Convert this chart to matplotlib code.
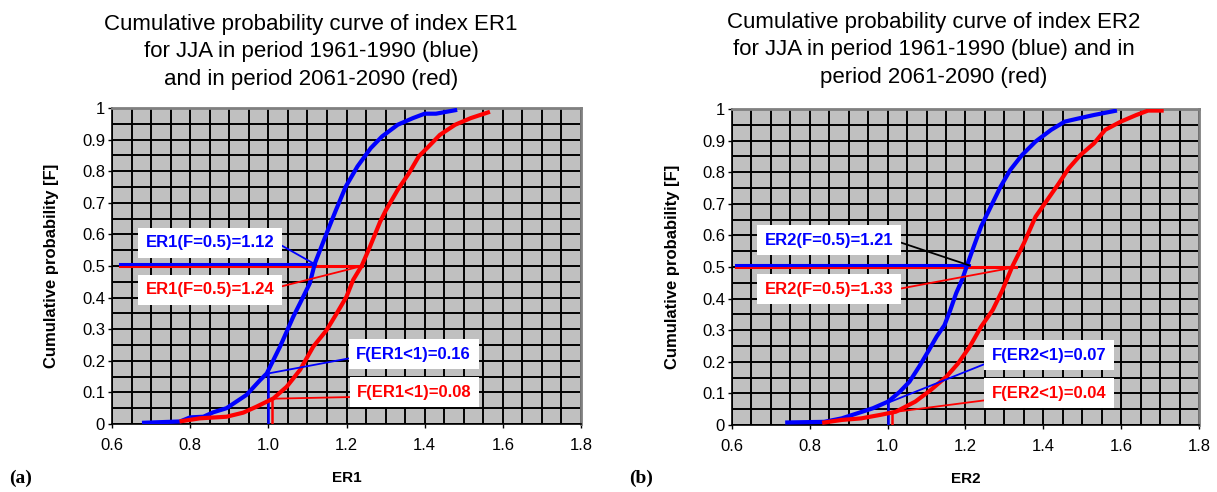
import numpy as np
import matplotlib
matplotlib.use("Agg")
from matplotlib import pyplot as plt
from matplotlib.ticker import MultipleLocator, FuncFormatter

# ER1, period 1961-1990 (blue)
er1_x_base = [0.682, 0.774, 0.80, 0.834, 0.859, 0.893, 0.944, 0.979, 0.996, 1.03,
              1.064, 1.081, 1.106, 1.119, 1.149, 1.173, 1.198, 1.228, 1.262, 1.291,
              1.331, 1.37, 1.40, 1.429, 1.478]
er1_f_base = [0.004, 0.008, 0.021, 0.023, 0.037, 0.05, 0.092, 0.139, 0.16, 0.245,
              0.34, 0.382, 0.445, 0.508, 0.603, 0.677, 0.751, 0.815, 0.873, 0.91,
              0.947, 0.968, 0.982, 0.982, 0.993]
# ER1, period 2061-2090 (red)
er1_x_fut = [0.778, 0.825, 0.893, 0.936, 0.97, 1.013, 1.047, 1.081, 1.115, 1.149,
             1.175, 1.20, 1.217, 1.239, 1.26, 1.286, 1.301, 1.331, 1.36, 1.385,
             1.41, 1.439, 1.478, 1.518, 1.562]
er1_f_fut = [0.009, 0.018, 0.023, 0.036, 0.055, 0.081, 0.118, 0.171, 0.245, 0.297,
             0.35, 0.403, 0.456, 0.501, 0.561, 0.64, 0.677, 0.741, 0.794, 0.847,
             0.878, 0.915, 0.947, 0.968, 0.986]

# ER2, period 1961-1990 (blue)
er2_x_base = [0.742, 0.837, 0.882, 0.922, 0.962, 1.001, 1.031, 1.056, 1.081, 1.106,
              1.126, 1.146, 1.161, 1.176, 1.191, 1.206, 1.221, 1.24, 1.265, 1.29,
              1.315, 1.345, 1.38, 1.42, 1.455, 1.49, 1.53, 1.584]
er2_f_base = [0.008, 0.01, 0.021, 0.037, 0.053, 0.074, 0.105, 0.137, 0.185, 0.237,
              0.28, 0.316, 0.364, 0.417, 0.459, 0.512, 0.564, 0.628, 0.691, 0.754,
              0.807, 0.854, 0.897, 0.934, 0.96, 0.97, 0.981, 0.994]
# ER2, period 2061-2090 (red)
er2_x_fut = [0.837, 0.882, 0.932, 0.981, 1.021, 1.071, 1.111, 1.151, 1.181, 1.211,
             1.24, 1.27, 1.295, 1.32, 1.35, 1.38, 1.41, 1.44, 1.465, 1.495,
             1.53, 1.559, 1.599, 1.639, 1.669, 1.704]
er2_f_fut = [0.008, 0.016, 0.021, 0.032, 0.042, 0.074, 0.111, 0.153, 0.195, 0.248,
             0.311, 0.364, 0.427, 0.501, 0.575, 0.659, 0.712, 0.765, 0.812, 0.854,
             0.891, 0.934, 0.96, 0.981, 0.995, 0.995]

# values quoted in the labels
medians_er1 = [1.12, 1.24]
below1_er1 = [0.16, 0.08]
medians_er2 = [1.21, 1.33]
below1_er2 = [0.07, 0.04]

x_ticks = [0.6, 0.8, 1.0, 1.2, 1.4, 1.6, 1.8]
y_ticks = [0, 0.1, 0.2, 0.3, 0.4, 0.5, 0.6, 0.7, 0.8, 0.9, 1]

titles = ["Cumulative probability curve of index ER1\n"
          "for JJA in period 1961-1990 (blue)\n"
          "and in period 2061-2090 (red)",
          "Cumulative probability curve of index ER2\n"
          "for JJA in period 1961-1990 (blue) and in\n"
          "period 2061-2090 (red)"]

BLUE = "#0000ff"
RED = "#ff0000"

plt.rcParams['font.family'] = ["Liberation Sans", 'DejaVu Sans']

W, H = 1217, 492
fig = plt.figure(figsize=(W / 100, H / 100), dpi=100)


def fmt_y(v, pos):
    if abs(v) < 1e-9 or abs(v - 1) < 1e-9:
        return "%d" % round(v)
    return "%.1f" % v


def make_axes(left_px, top_px, right_px, bottom_px):
    ax = fig.add_axes([left_px / W, 1 - bottom_px / H,
                       (right_px - left_px) / W, (bottom_px - top_px) / H])
    ax.set_facecolor("#c0c0c0")
    ax.set_xlim(0.6, 1.8)
    ax.set_ylim(0, 1)
    ax.set_xticks(x_ticks)
    ax.set_yticks(y_ticks)
    ax.xaxis.set_minor_locator(MultipleLocator(0.05))
    ax.yaxis.set_minor_locator(MultipleLocator(0.05))
    ax.xaxis.set_major_formatter(FuncFormatter(lambda v, p: "%.1f" % v))
    ax.yaxis.set_major_formatter(FuncFormatter(fmt_y))
    ax.grid(which="both", color="black", lw=1.4)
    ax.set_axisbelow(True)
    ax.tick_params(which="major", direction="out", length=3, width=1,
                   labelsize=12, color="black")
    ax.tick_params(axis="x", pad=7)
    ax.tick_params(axis="y", pad=2)
    ax.tick_params(which="minor", length=0)
    for s in ["left", "bottom"]:
        ax.spines[s].set_color("black")
        ax.spines[s].set_linewidth(1.2)
    for s in ["top", "right"]:
        ax.spines[s].set_color("#808080")
        ax.spines[s].set_linewidth(2)
    return ax


def draw_panel(ax, xb, fb, xf, ff, medians, below1, name, lab_pos, rel_pos,
               med_leader_colors, x_start):
    box = dict(facecolor="white", edgecolor="none", boxstyle="square,pad=0.45")
    # median lines at F = 0.5
    ax.plot([x_start, medians[1]], [0.5, 0.5], color=RED, lw=2.2, zorder=3)
    ax.plot([x_start, medians[0]], [0.505, 0.505], color=BLUE, lw=2.2, zorder=3)
    # vertical lines at index = 1
    ax.plot([1.0, 1.0], [0, below1[0]], color=BLUE, lw=1.8, zorder=3)
    ax.plot([1.01, 1.01], [0, below1[1]], color=RED, lw=1.8, zorder=3)

    ax.plot(xb, fb, color=BLUE, lw=3, zorder=4)
    ax.plot(xf, ff, color=RED, lw=3, zorder=4)

    texts = ["%s(F=0.5)=%.2f" % (name, medians[0]),
             "%s(F=0.5)=%.2f" % (name, medians[1]),
             "F(%s<1)=%.2f" % (name, below1[0]),
             "F(%s<1)=%.2f" % (name, below1[1])]
    points = [(medians[0], 0.505), (medians[1], 0.5),
              (1.0, below1[0]), (1.01, below1[1])]
    colors = [BLUE, RED, BLUE, RED]
    leaders = med_leader_colors + [BLUE, RED]
    for t, p, c, lc, pos, rp in zip(texts, points, colors, leaders, lab_pos, rel_pos):
        ax.annotate(t, xy=p, xytext=pos, textcoords="data", ha="center", va="center",
                    fontsize=12, fontweight="bold", color=c, bbox=box, zorder=6,
                    arrowprops=dict(arrowstyle="-", color=lc, lw=1.3, relpos=rp,
                                    shrinkA=0, shrinkB=0))

    ax.text(0.5, -0.171, name, transform=ax.transAxes, ha="center", va="center",
            fontsize=11, fontweight="bold")
    ax.text(-0.128, 0.5, "Cumulative probability [F]", transform=ax.transAxes,
            rotation=90, ha="center", va="center", fontsize=12, fontweight="bold")


ax1 = make_axes(112, 108, 581, 424)
draw_panel(ax1, er1_x_base, er1_f_base, er1_x_fut, er1_f_fut, medians_er1, below1_er1,
           "ER1", [(0.851, 0.573), (0.851, 0.425), (1.372, 0.2215), (1.374, 0.100)],
           [(1, 0.6), (1, 0.6), (0, 0.3), (0, 0.2)],
           [BLUE, RED], 0.62)

ax2 = make_axes(732, 109, 1199, 425)
draw_panel(ax2, er2_x_base, er2_f_base, er2_x_fut, er2_f_fut, medians_er2, below1_er2,
           "ER2", [(0.85, 0.585), (0.85, 0.43), (1.415, 0.221), (1.415, 0.10)],
           [(1, 0.5), (1, 0.45), (0, 0.1), (0, 0.1)],
           ["black", RED], 0.61)

fig.text(311 / W, 1 - 52 / H, titles[0], ha="center", va="center", fontsize=16,
         linespacing=1.4)
fig.text(934 / W, 1 - 50 / H, titles[1], ha="center", va="center", fontsize=16,
         linespacing=1.4)

fig.text(21 / W, 1 - 478 / H, "(a)", ha="center", va="center", fontsize=14,
         fontweight="bold", family=["Liberation Serif", "DejaVu Serif"])
fig.text(641 / W, 1 - 478 / H, "(b)", ha="center", va="center", fontsize=14,
         fontweight="bold", family=["Liberation Serif", "DejaVu Serif"])

fig.savefig("out.png", dpi=100)
